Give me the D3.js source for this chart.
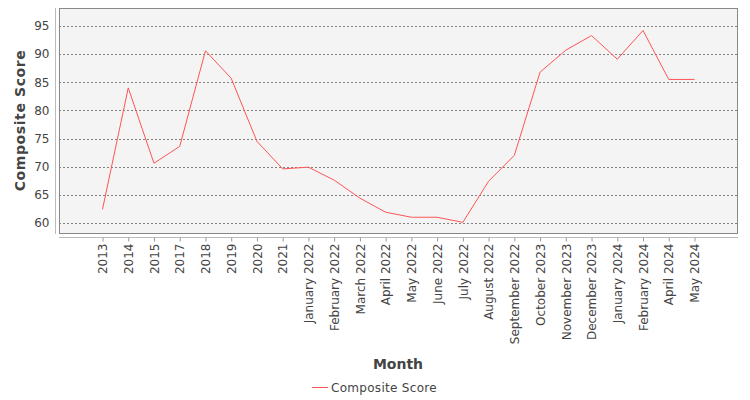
<!DOCTYPE html>
<html>
<head>
<meta charset="utf-8">
<script src="https://cdn.jsdelivr.net/npm/d3@7"></script>
<style>
  body { margin: 0; background: #fff; }
  text { font-family: "DejaVu Sans", sans-serif; }
</style>
</head>
<body>
<div id="chart"></div>
<script>
var months = ["2013","2014","2015","2017","2018","2019","2020","2021",
  "January 2022","February 2022","March 2022","April 2022","May 2022","June 2022","July 2022",
  "August 2022","September 2022","October 2023","November 2023","December 2023",
  "January 2024","February 2024","April 2024","May 2024"];
var scores = [62.4,84.0,70.6,73.6,90.6,85.7,74.5,69.6,
  69.9,67.6,64.4,61.9,61.0,61.0,60.1,
  67.4,72.0,86.8,90.7,93.3,
  89.1,94.2,85.5,85.5];
var yTicks = [60,65,70,75,80,85,90,95];
var seriesName = "Composite Score";

var W = 750, H = 400;
var plot = {left: 59, right: 738, top: 8, bottom: 233};

var svg = d3.select("#chart").append("svg")
    .attr("width", W)
    .attr("height", H);

var x = d3.scalePoint()
    .domain(months)
    .range([plot.left, plot.right])
    .padding(1.69);

var y = d3.scaleLinear()
    .domain([58.2, 98.2])
    .range([plot.bottom, plot.top]);

// plot background
svg.append("rect")
    .attr("x", plot.left).attr("y", plot.top)
    .attr("width", plot.right - plot.left).attr("height", plot.bottom - plot.top)
    .style("fill", "#f4f4f4");

// gridlines
svg.append("g").selectAll("line")
  .data(yTicks)
  .enter()
  .append("line")
    .attr("x1", plot.left).attr("x2", plot.right)
    .attr("y1", function (d) { return Math.round(y(d)) + 0.5; })
    .attr("y2", function (d) { return Math.round(y(d)) + 0.5; })
    .style("stroke", "#666")
    .style("stroke-width", 0.8)
    .style("stroke-dasharray", "2,2");

svg.append("rect")
    .attr("x", plot.left + 0.5).attr("y", plot.top + 0.5)
    .attr("width", plot.right - plot.left - 1).attr("height", plot.bottom - plot.top)
    .style("fill", "none")
    .style("stroke", "#888");

// Y axis
var yAxis = svg.append("g")
    .attr("transform", "translate(55.5,0)")
    .call(d3.axisLeft(y).tickValues(yTicks).tickSize(0).tickPadding(6));
yAxis.select(".domain").attr("d", "M0," + plot.top + "V" + (plot.bottom + 1)).style("stroke", "#bbb");
yAxis.selectAll("text").style("font-size", "12px").style("fill", "#444");

// X axis
var xAxis = svg.append("g")
    .attr("transform", "translate(0,237.5)")
    .call(d3.axisBottom(x).tickSize(4).tickSizeOuter(0));
xAxis.select(".domain").attr("d", "M" + plot.left + ",0H" + plot.right).style("stroke", "#bbb");
xAxis.selectAll(".tick line").style("stroke", "#999");
xAxis.selectAll("text")
    .style("font-size", "12px")
    .style("fill", "#444")
    .attr("text-anchor", "end")
    .attr("transform", "rotate(-90)")
    .attr("x", -6)
    .attr("y", 0)
    .attr("dy", "0.35em");

// axis titles
svg.append("text")
    .attr("text-anchor", "middle")
    .attr("x", 398)
    .attr("y", 369)
    .text("Month")
    .style("font-size", "14px")
    .style("font-weight", "bold")
    .style("fill", "#444");

svg.append("text")
    .attr("text-anchor", "middle")
    .attr("transform", "translate(25," + ((plot.top + plot.bottom) / 2) + ") rotate(-90)")
    .text("Composite Score")
    .style("font-size", "14px")
    .style("font-weight", "bold")
    .style("letter-spacing", "0.6px")
    .style("fill", "#444");

// line
var line = d3.line()
    .x(function (d, i) { return x(months[i]); })
    .y(function (d) { return y(d); });

svg.append("path")
    .datum(scores)
    .attr("d", line)
    .style("fill", "none")
    .style("stroke", "#ff5555")
    .style("stroke-width", 1);

// legend
svg.append("line").attr("x1", 312).attr("x2", 328).attr("y1", 387.5).attr("y2", 387.5)
    .style("stroke", "#ff5555").style("stroke-width", 1);
svg.append("text").attr("x", 331).attr("y", 392).text(seriesName)
    .style("font-size", "12px").style("letter-spacing", "0.3px").style("fill", "#444");
</script>
</body>
</html>
